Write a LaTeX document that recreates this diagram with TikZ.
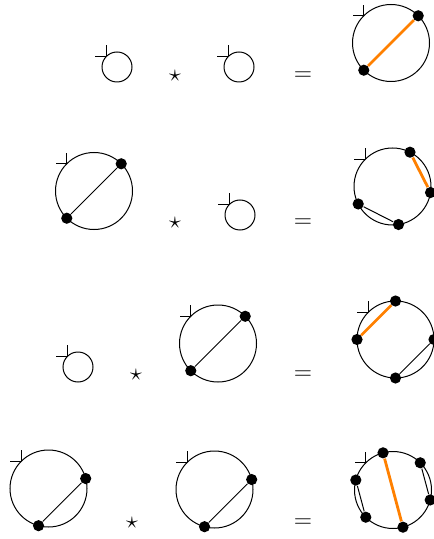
\documentclass[tikz,border=0pt]{standalone}
\usepackage{amsmath,amssymb}
\usepackage{tikz}
\usetikzlibrary{positioning}

\begin{document}
\begin{tikzpicture}[
    x=0.5pt, y=-0.5pt,
    smallwheel/.style={
        draw,
        circle,
        minimum size=15pt,
        inner sep=0pt,
        outer sep=0pt,
        line width=0.5pt
    },
    bigwheel/.style={smallwheel, minimum size=38.5pt},
    vertex/.style={circle, fill=black, minimum size=5.6pt, inner sep=0pt},
    chord/.style={line width=0.5pt},
    hot/.style={draw=orange, line width=1.4pt},
    root/.style={line width=0.5pt},
    op/.style={inner sep=0pt, font=\large}
]
    \useasboundingbox (0,0) rectangle (433,539);

    % ROW 1
    \node[smallwheel] (s1) at (117,67) {};
    \draw[root] (s1.135) -- ++(-11,0) (s1.135) -- ++(0,-11);
    \node[op] (st1) at (175,76) {$\star$};
    \node[smallwheel] (s2) at (239,67) {};
    \draw[root] (s2.135) -- ++(-11,0) (s2.135) -- ++(0,-11);
    \node[op] (eq1) at (303,76) {$=$};

    \node[bigwheel] (r1) at (391,43) {};
    \draw[root] (r1.135) -- ++(-11,0) (r1.135) -- ++(0,-11);
    \node[vertex] (r1a) at (r1.45) {};
    \node[vertex] (r1b) at (r1.225) {};
    \draw[hot] (r1a) -- (r1b);

    % ROW 2
    \node[bigwheel] (b2) at (94,191) {};
    \draw[root] (b2.135) -- ++(-11,0) (b2.135) -- ++(0,-11);
    \node[vertex] (b2a) at (b2.45) {};
    \node[vertex] (b2b) at (b2.225) {};
    \draw[chord] (b2a) -- (b2b);
    \node[op] (st2) at (175,223) {$\star$};
    \node[smallwheel] (s3) at (240,215) {};
    \draw[root] (s3.135) -- ++(-11,0) (s3.135) -- ++(0,-11);
    \node[op] (eq2) at (303,223) {$=$};

    \node[bigwheel] (r2) at (392.5,186.5) {};
    \draw[root] (r2.135) -- ++(-11,0) (r2.135) -- ++(0,-11);
    \node[vertex] (r2a) at (r2.63) {};
    \node[vertex] (r2b) at (r2.-9) {};
    \node[vertex] (r2c) at (r2.-81) {};
    \node[vertex] (r2d) at (r2.-153) {};
    \draw[hot] (r2a) -- (r2b);
    \draw[chord] (r2c) -- (r2d);

    % ROW 3
    \node[smallwheel] (s4) at (78,367) {};
    \draw[root] (s4.135) -- ++(-11,0) (s4.135) -- ++(0,-11);
    \node[op] (st3) at (136,375) {$\star$};
    \node[bigwheel] (b3) at (218,343.5) {};
    \draw[root] (b3.135) -- ++(-11,0) (b3.135) -- ++(0,-11);
    \node[vertex] (b3a) at (b3.45) {};
    \node[vertex] (b3b) at (b3.225) {};
    \draw[chord] (b3a) -- (b3b);
    \node[op] (eq3) at (303,375) {$=$};

    \node[bigwheel] (r3) at (395.5,339.5) {};
    \draw[root] (r3.135) -- ++(-11,0) (r3.135) -- ++(0,-11);
    \node[vertex] (r3a) at (r3.90) {};
    \node[vertex] (r3b) at (r3.180) {};
    \node[vertex] (r3c) at (r3.270) {};
    \node[vertex] (r3d) at (r3.0) {};
    \draw[hot] (r3a) -- (r3b);
    \draw[chord] (r3c) -- (r3d);

    % ROW 4
    \node[bigwheel] (b4) at (48.5,488.5) {};
    \draw[root] (b4.135) -- ++(-11,0) (b4.135) -- ++(0,-11);
    \node[vertex] (b4a) at (b4.15) {};
    \node[vertex] (b4b) at (b4.255) {};
    \draw[chord] (b4a) -- (b4b);
    \node[op] (st4) at (132,523) {$\star$};
    \node[bigwheel] (b5) at (214.5,489.5) {};
    \draw[root] (b5.135) -- ++(-11,0) (b5.135) -- ++(0,-11);
    \node[vertex] (b5a) at (b5.15) {};
    \node[vertex] (b5b) at (b5.255) {};
    \draw[chord] (b5a) -- (b5b);
    \node[op] (eq4) at (303,523) {$=$};

    \node[bigwheel] (r4) at (393,490) {};
    \draw[root] (r4.135) -- ++(-11,0) (r4.135) -- ++(0,-11);
    \node[vertex] (r4a) at (r4.165) {};
    \node[vertex] (r4b) at (r4.105) {};
    \node[vertex] (r4c) at (r4.45) {};
    \node[vertex] (r4d) at (r4.-15) {};
    \node[vertex] (r4e) at (r4.-75) {};
    \node[vertex] (r4f) at (r4.-135) {};
    \draw[hot] (r4b) -- (r4e);
    \draw[chord] (r4a) -- (r4f);
    \draw[chord] (r4c) -- (r4d);

\end{tikzpicture}
\end{document}
